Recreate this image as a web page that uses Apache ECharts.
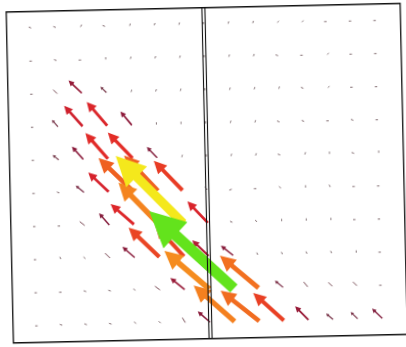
<!DOCTYPE html>
<html><head><meta charset="utf-8">
<script src="https://cdn.jsdelivr.net/npm/echarts@6/dist/echarts.min.js"></script>
<style>html,body{margin:0;padding:0;background:#fff;overflow:hidden}
#c{width:406px;height:347px;transform:rotate(-1.25deg);transform-origin:50% 50%}</style>
</head><body><div id="c"></div>
<script>
// grid columns (x) and rows (y, top to bottom)
const columns = [1,2,3,4,5,6,7,8,9,10,11,12,13,14,15];
const rowsY = [9.5,8.5,7.5,6.5,5.5,4.5,3.5,2.5,1.5,0.5];
const dividerX = 8;

// vector x-components (column units), one row per grid row, top to bottom
const U = [
 [-0.1,-0.1,0.06,-0.1,0.03,0.03,0.03,0,0.03,0.03,0.06,0.06,-0.1,-0.1,-0.1],
 [-0.1,-0.1,-0.1,0,0.03,0.03,0.03,0,0.03,0.03,-0.1,-0.1,0.06,-0.1,-0.1],
 [-0.1,-0.16,-0.53,-0.24,0.03,0.03,0.03,0,0.03,0.03,0.03,-0.1,0.06,-0.1,-0.1],
 [-0.1,-0.24,-0.73,-0.81,-0.45,0,0,0,0.03,0.03,-0.1,-0.1,-0.1,-0.1,-0.1],
 [-0.1,-0.24,-0.45,-0.89,-0.98,-0.41,0.03,0,0.03,0.03,-0.1,0.03,0,-0.1,0],
 [-0.1,-0.1,-0.33,-0.81,-1.38,-1.34,-1.14,-0.08,-0.1,-0.1,-0.08,0,-0.04,-0.1,-0.1],
 [-0.1,-0.1,-0.2,-0.41,-0.93,-1.59,-2.68,-0.81,-0.1,-0.08,0,0,0,-0.1,-0.1],
 [-0.1,-0.04,-0.08,-0.2,-0.49,-1.22,-1.14,-0.65,-0.49,-0.04,-0.04,-0.04,-0.04,0,-0.1],
 [-0.1,-0.1,-0.1,-0.1,-0.08,-0.2,-0.57,-1.79,-3.37,-1.54,-0.33,-0.16,-0.16,-0.16,-0.1],
 [-0.1,-0.1,-0.1,-0.1,-0.08,-0.08,-0.12,-0.49,-1.63,-1.54,-1.22,-0.53,-0.28,-0.28,-0.41]
];
// vector y-components (row units)
const V = [
 [0.03,0.03,0.07,0.03,0.07,0.07,0.07,0.07,0.07,0.07,0.05,0.05,0,0,0],
 [0,0.03,0,0.07,0.07,0.07,0.07,0.07,0.07,0.07,0.03,0,0.05,0,0],
 [0,0.12,0.39,0.18,0.07,0.07,0.07,0.07,0.07,0.07,0.07,0.03,0.05,0,0],
 [0,0.21,0.63,0.73,0.42,0.07,0.07,0.07,0.07,0.07,0.03,0.03,0,0.03,0],
 [0,0.15,0.39,0.79,0.79,0.33,0.07,0.07,0.07,0.07,0.03,0.07,0.07,0.03,0.07],
 [0,0.03,0.21,0.6,1.03,1.09,0.91,0.09,-0.03,0,0.05,0.07,0.07,0,0],
 [0,0,0.12,0.36,0.63,1.27,2.08,0.66,0.03,0.05,0.07,0.07,0.07,0,0],
 [0,0.07,0.05,0.15,0.33,0.91,0.97,0.48,0.3,0.07,0.07,0.07,0.07,0.07,0],
 [0,0,0.03,0.03,0.06,0.12,0.36,1.18,2.39,1.0,0.21,0.15,0.12,0.12,0],
 [0,0.03,0.03,0.03,0.06,0.06,0.15,0.33,1.12,0.94,0.85,0.42,0.18,0.21,0.3]
];
const colorScale = ['#8c8c8c','#7a5058','#7a2a44','#8a1a3a','#b01c34','#d6222c','#e22a28','#e63426','#ec5022','#f16c20','#f4821f','#f5901f','#f5a01e','#f5b21e','#f5c41d','#f5d41c','#f5e01c','#f4e81c','#d8e81c','#a8e61c','#78e41c','#58e21c'];

const data = [];
rowsY.forEach((y, r) => columns.forEach((x, c) => {
  const u = U[r][c], v = V[r][c];
  data.push([x, y, u, v, Math.hypot(u, v)]);
}));
data.sort((a, b) => a[4] - b[4]);

function renderArrow(params, api) {
  const x = api.value(0), y = api.value(1), u = api.value(2), v = api.value(3);
  const p0 = api.coord([x, y]), p1 = api.coord([x + u, y + v]);
  const dx = p1[0] - p0[0], dy = p1[1] - p0[1];
  const L = Math.hypot(dx, dy);
  const color = api.visual('color');
  if (L < 7) {
    return {type: 'line', shape: {x1: p0[0], y1: p0[1], x2: p1[0], y2: p1[1]},
            style: {stroke: color, lineWidth: 1}};
  }
  const ux = dx / L, uy = dy / L, nx = -uy, ny = ux;
  const hl = Math.max(3, 0.31 * L), hw = Math.max(3.5, 0.31 * L), sw = Math.max(1.2, 0.095 * L);
  const bx = p0[0] + ux * (L - hl), by = p0[1] + uy * (L - hl);
  const pts = [
    [p0[0] + nx * sw / 2, p0[1] + ny * sw / 2],
    [bx + nx * sw / 2, by + ny * sw / 2],
    [bx + nx * hw / 2, by + ny * hw / 2],
    [p1[0], p1[1]],
    [bx - nx * hw / 2, by - ny * hw / 2],
    [bx - nx * sw / 2, by - ny * sw / 2],
    [p0[0] - nx * sw / 2, p0[1] - ny * sw / 2]
  ];
  return {type: 'polygon', shape: {points: pts}, style: {fill: color, stroke: null}};
}

const chart = echarts.init(document.getElementById('c'), null, {renderer: 'canvas'});
chart.setOption({
  animation: false,
  backgroundColor: '#ffffff',
  grid: {left: 9.75, top: 7.75, width: 394, height: 331, show: true,
         borderColor: '#111', borderWidth: 1.3, backgroundColor: 'transparent'},
  xAxis: {type: 'value', min: 0, max: 16, show: false},
  yAxis: {type: 'value', min: 0, max: 10, show: false},
  visualMap: {show: false, type: 'continuous', dimension: 4, min: 0, max: 4.2,
              seriesIndex: 0, inRange: {color: colorScale}},
  series: [
    {type: 'custom', renderItem: renderArrow, data: data, encode: {x: 0, y: 1}, silent: true},
    {type: 'line', data: [], silent: true,
     markLine: {silent: true, symbol: 'none', label: {show: false},
       lineStyle: {color: '#111', width: 1.1, type: 'solid'},
       data: [{xAxis: dividerX - 0.065}, {xAxis: dividerX + 0.065}]}}
  ]
});
</script></body></html>
